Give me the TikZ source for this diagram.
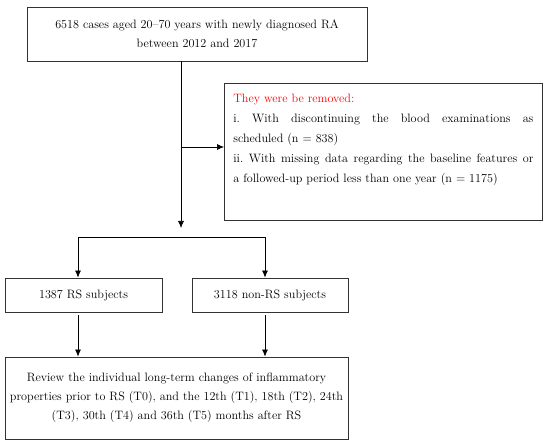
\documentclass[tikz,border=0pt]{standalone}
\usepackage{xcolor}
\usepackage{tikz}
\usetikzlibrary{calc}
\usetikzlibrary{arrows, arrows.meta}

\begin{document}
\begin{tikzpicture}[x=1bp, y=-1bp,
	box/.style={draw=black!80, line width=0.8pt, inner sep=0pt,
		font=\fontsize{12.2}{19}\selectfont},
	link/.style={line width=0.7pt, black},
	arrow/.style={link, -{Latex[length=7bp, width=6bp]}}]
	\useasboundingbox (0,0) rectangle (550,448);
	% boxes
	\node[box, minimum width=340bp, minimum height=54bp, align=center]
		(cases) at (197,34)
		{6518 cases aged 20--70 years with newly diagnosed RA\\between 2012 and 2017};
	\node[box, anchor=north west, minimum width=318bp, minimum height=137bp,
		inner xsep=9bp, inner ysep=11bp, font=\fontsize{12.2}{20}\selectfont]
		(removed) at (224,83)
		{\parbox[c][115bp][t]{300bp}{%
		\textcolor{red}{They were be removed:}\par
		i.\ With discontinuing the blood examinations as\linebreak scheduled (n = 838)\par
		ii.\ With missing data regarding the baseline features or\linebreak a followed-up period less than one year (n = 1175)}};
	\node[box, minimum width=157bp, minimum height=34bp] (rs) at (83.5,295)
		{1387 RS subjects};
	\node[box, minimum width=156bp, minimum height=34bp] (nonrs) at (270,295)
		{3118 non-RS subjects};
	\node[box, minimum width=343bp, minimum height=82bp, align=center]
		(review) at (176.5,398)
		{Review the individual long-term changes of inflammatory\\
		properties prior to RS (T0), and the 12th (T1), 18th (T2), 24th\\
		(T3), 30th (T4) and 36th (T5) months after RS};
	% connectors
	\coordinate (split) at (181,228);
	\coordinate (side) at (181,147);
	\coordinate (left) at (78,237);
	\coordinate (right) at (265,237);
	\draw [arrow] (split |- cases.south) -- (split);
	\draw [arrow] (side) -- (side -| removed.west);
	\draw [arrow] (right) -- (left) -- (left |- rs.north);
	\draw [arrow] (right) -- (right |- nonrs.north);
	\draw [arrow] ($(left |- rs.south)+(0,3)$) -- (left |- review.north);
	\draw [arrow] ($(right |- nonrs.south)+(0,3)$) -- (right |- review.north);
\end{tikzpicture}
\end{document}
